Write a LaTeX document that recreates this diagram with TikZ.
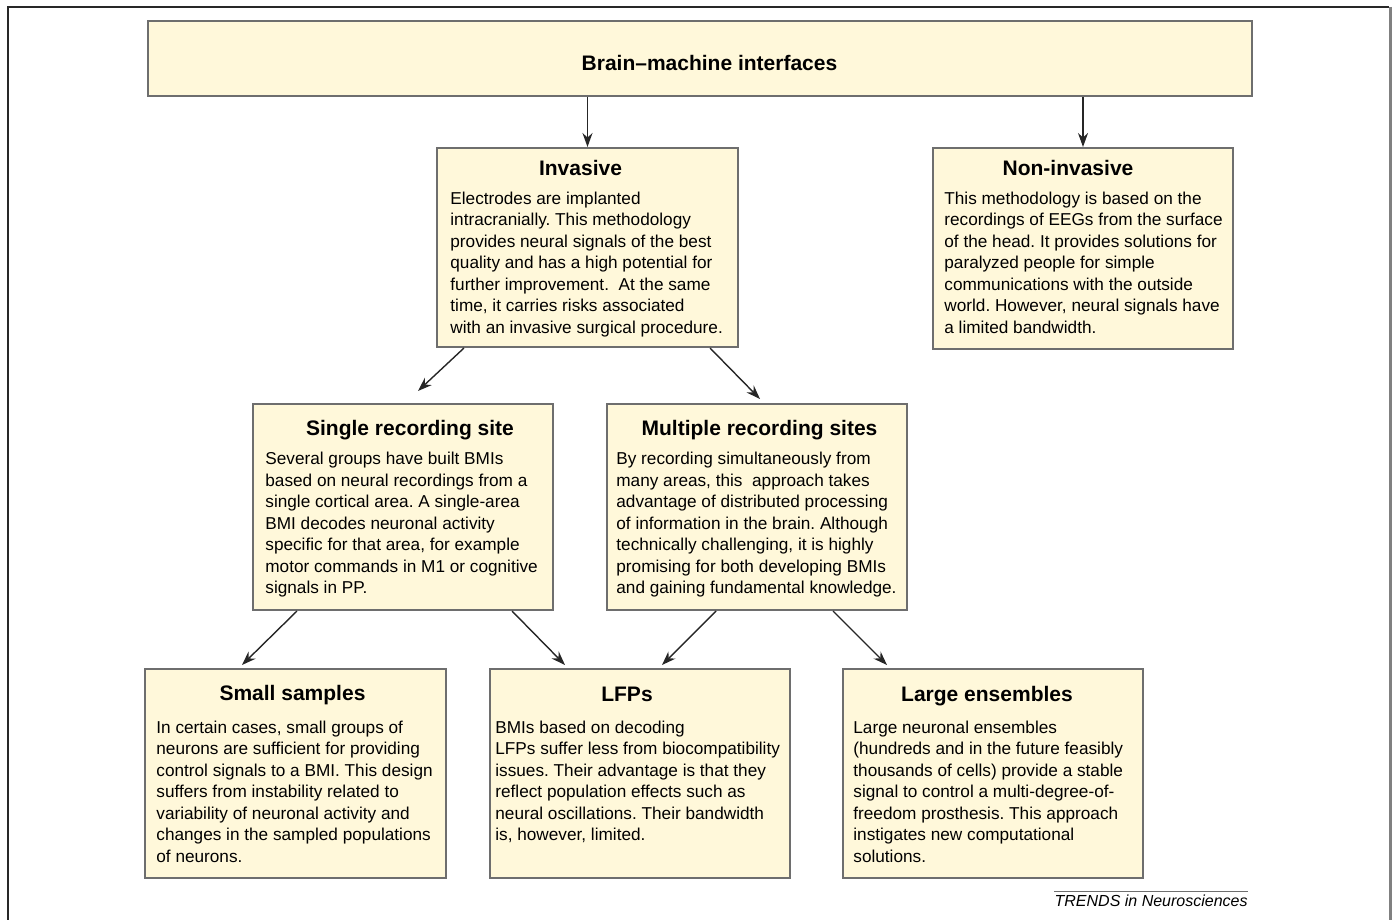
\documentclass[tikz,border=0pt]{standalone}
\usepackage{fontspec}
\setmainfont{Liberation Sans}
\usetikzlibrary{%
	calc,%
	arrows.meta
}
\frenchspacing
\definecolor{boxfill}{RGB}{255,248,218}
\definecolor{boxline}{RGB}{110,110,110}
\definecolor{frameline}{RGB}{40,40,40}

\tikzset{
	bmibox/.style={draw=boxline,fill=boxfill,line width=1pt,inner sep=0pt,anchor=north west},
	bmititle/.style={anchor=base,inner sep=0pt,font=\fontsize{10.5}{12}\selectfont\bfseries},
	bmitext/.style={anchor=north west,inner sep=0pt,align=left,font=\fontsize{8.6}{10.75}\selectfont\frenchspacing},
	flow/.style={-{Stealth[length=7pt,width=5pt]},line width=0.7pt,black!85}
}

\begin{document}
\begin{tikzpicture}[x=0.5pt,y=-0.5pt]
		\useasboundingbox (0,0) rectangle (1392,920);
		% Frame of the figure
		\draw[frameline,line width=1pt] (8,920) -- (8,7) -- (1389,7);
		\draw[gray,line width=1.5pt] (1390,7) -- (1390,920);
		
		% Boxes
		\node[bmibox,minimum width=552pt,minimum height=37.5pt] (top) at (147,20) {};
		\node[bmibox,minimum width=150.5pt,minimum height=99.5pt] (inv) at (436,147) {};
		\node[bmibox,minimum width=150pt,minimum height=100.5pt] (non) at (932,147) {};
		\node[bmibox,minimum width=150pt,minimum height=103pt] (single) at (252,403) {};
		\node[bmibox,minimum width=150pt,minimum height=103pt] (multi) at (606,403) {};
		\node[bmibox,minimum width=150.5pt,minimum height=104.5pt] (small) at (144,668) {};
		\node[bmibox,minimum width=150pt,minimum height=104.5pt] (lfp) at (489,668) {};
		\node[bmibox,minimum width=150pt,minimum height=104.5pt] (large) at (842,668) {};
		
		% Titles
		\node[bmititle] (top title) at ($(top.center)+(9.5,12)$) {Brain–machine interfaces};
		\node[bmititle] (inv title) at ($(inv.north)+(-7,28.7)$) {Invasive};
		\node[bmititle] (non title) at ($(non.north)+(-15,28.3)$) {Non-invasive};
		\node[bmititle] (single title) at ($(single.north)+(7,32)$) {Single recording site};
		\node[bmititle] (multi title) at ($(multi.north)+(2.5,32)$) {Multiple recording sites};
		\node[bmititle] (small title) at ($(small.north)+(-3,32.5)$) {Small samples};
		\node[bmititle] (lfp title) at ($(lfp.north)+(-13,33)$) {LFPs};
		\node[bmititle] (large title) at ($(large.north)+(-6,33)$) {Large ensembles};
		
		% Texts
		\node[bmitext] (inv text) at ($(inv.north west)+(14,44.6)$) {Electrodes are implanted\\
			intracranially. This methodology\\
			provides neural signals of the best\\
			quality and has a high potential for\\
			further improvement.\ \ At the same\\
			time, it carries risks associated\\
			with an invasive surgical procedure.};
		\node[bmitext] (non text) at ($(non.north west)+(12,44.2)$) {This methodology is based on the\\
			recordings of EEGs from the surface\\
			of the head. It provides solutions for\\
			paralyzed people for simple\\
			communications with the outside\\
			world. However, neural signals have\\
			a limited bandwidth.};
		\node[bmitext] (single text) at ($(single.north west)+(13,48.9)$) {Several groups have built BMIs\\
			based on neural recordings from a\\
			single cortical area. A single-area\\
			BMI decodes neuronal activity\\
			specific for that area, for example\\
			motor commands in M1 or cognitive\\
			signals in PP.};
		\node[bmitext] (multi text) at ($(multi.north west)+(10,49)$) {By recording simultaneously from\\
			many areas, this\ \ approach takes\\
			advantage of distributed processing\\
			of information in the brain. Although\\
			technically challenging, it is highly\\
			promising for both developing BMIs\\
			and gaining fundamental knowledge.};
		\node[bmitext] (small text) at ($(small.north west)+(12,52.6)$) {In certain cases, small groups of\\
			neurons are sufficient for providing\\
			control signals to a BMI. This design\\
			suffers from instability related to\\
			variability of neuronal activity and\\
			changes in the sampled populations\\
			of neurons.};
		\node[bmitext] (lfp text) at ($(lfp.north west)+(6,52.6)$) {BMIs based on decoding\\
			LFPs suffer less from biocompatibility\\
			issues. Their advantage is that they\\
			reflect population effects such as\\
			neural oscillations. Their bandwidth\\
			is, however, limited.};
		\node[bmitext] (large text) at ($(large.north west)+(11,52.6)$) {Large neuronal ensembles\\
			(hundreds and in the future feasibly\\
			thousands of cells) provide a stable\\
			signal to control a multi-degree-of-\\
			freedom prosthesis. This approach\\
			instigates new computational\\
			solutions.};
		
		% Arrows
		\draw[flow] (inv.north |- top.south) -- (inv.north);
		\draw[flow] (non.north |- top.south) -- (non.north);
		\draw[flow] ($(inv.south west)+(28,0)$) -- ($(single.north west)+(166,-12)$);
		\draw[flow] ($(inv.south east)+(-29,0)$) -- ($(multi.north west)+(154,-4)$);
		\draw[flow] ($(single.south west)+(45,0)$) -- ($(small.north west)+(98,-3)$);
		\draw[flow] ($(single.south west)+(260,0)$) -- ($(lfp.north west)+(76,-3)$);
		\draw[flow] ($(multi.south west)+(110,0)$) -- ($(lfp.north west)+(173,-3)$);
		\draw[flow] ($(multi.south west)+(227,0)$) -- ($(large.north west)+(45,-3)$);
		
		% Source line
		\node[anchor=base east,inner sep=0pt,font=\fontsize{8}{9.6}\selectfont\itshape] (trends) at (1248,906.7) {TRENDS in Neurosciences};
		\draw[boxline,line width=0.6pt] ([yshift=1.7pt]trends.north west) -- ([yshift=1.7pt]trends.north east);
	\end{tikzpicture}
\end{document}
